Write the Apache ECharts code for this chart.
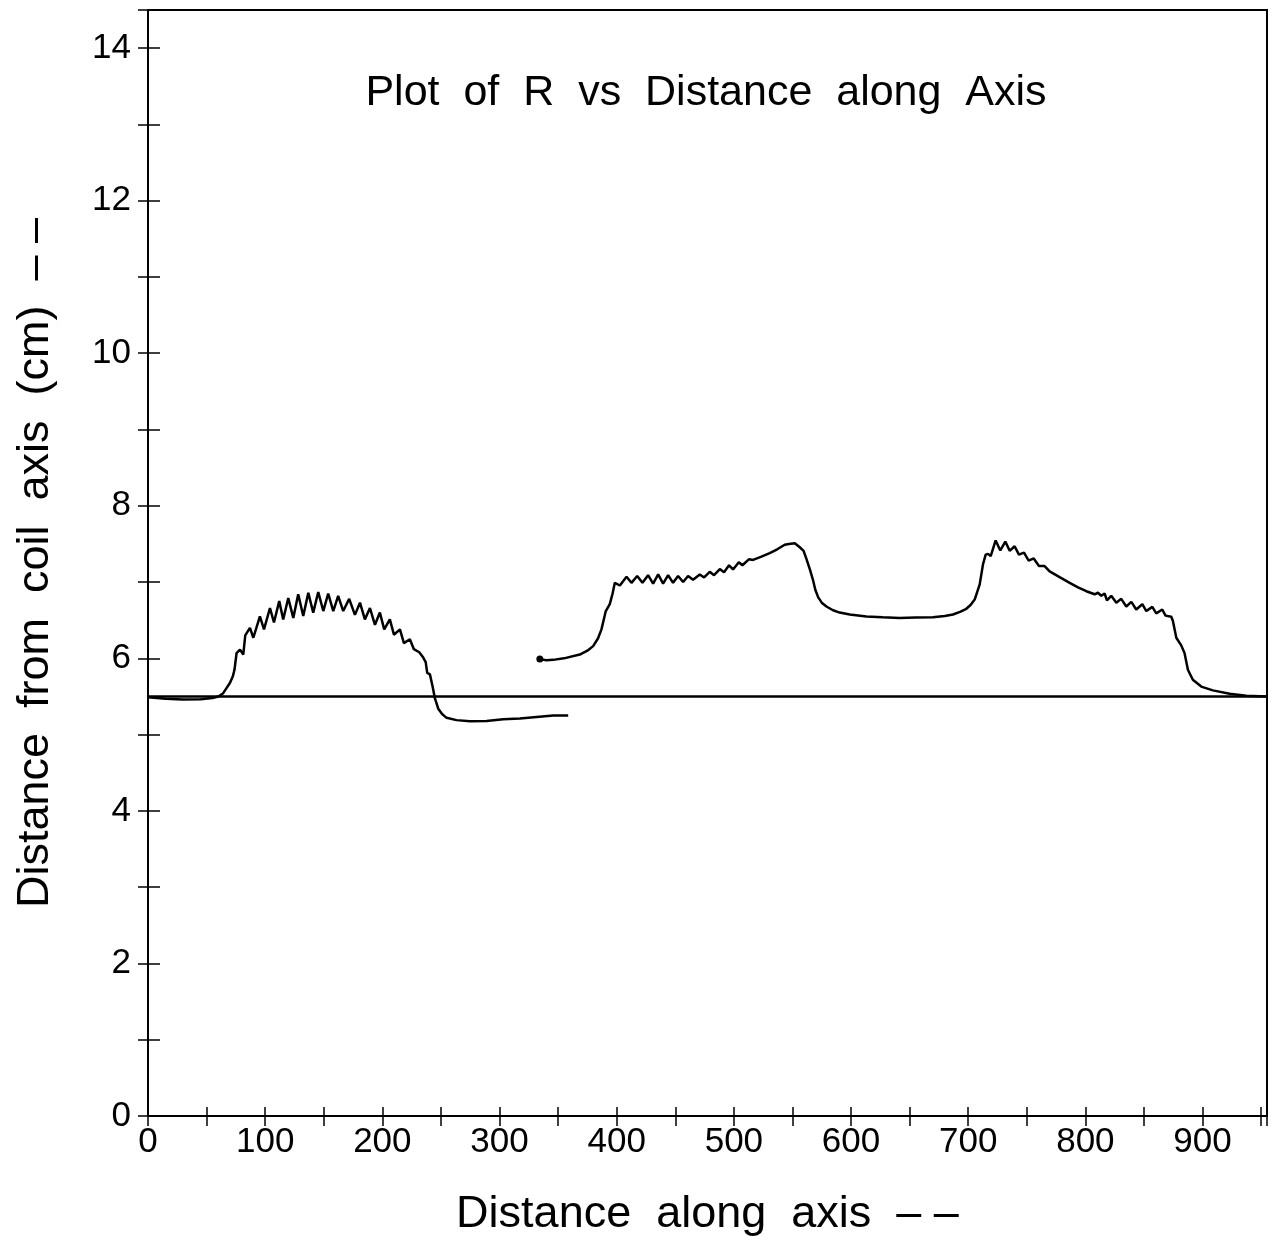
<!DOCTYPE html>
<html>
<head>
<meta charset="utf-8">
<title>Plot of R vs Distance along Axis</title>
<script src="https://cdn.jsdelivr.net/npm/echarts@6/dist/echarts.min.js"></script>
<style>
  html, body { margin: 0; padding: 0; background: #ffffff; }
  #chart { width: 1272px; height: 1246px; }
</style>
</head>
<body>
<div id="chart"></div>
<script>
// ---- Data ----
const xTickLabels = [0, 100, 200, 300, 400, 500, 600, 700, 800, 900];
const yTickLabels = [0, 2, 4, 6, 8, 10, 12, 14];

// Horizontal reference line (coil radius)
const coilRadiusLine = [[0, 5.5], [955, 5.5]];

// First traced curve (left hump, then below the line)
const leftCurve = [
  [0, 5.49], [15, 5.47], [30, 5.46], [45, 5.465], [55, 5.48], [60, 5.50], [64, 5.54],
  [67, 5.61], [70, 5.68], [72.5, 5.77], [73.8, 5.85], [75.6, 6.07], [78.5, 6.115],
  [81.3, 6.05], [83, 6.30], [87, 6.40], [89.9, 6.27], [95.5, 6.55], [99, 6.38],
  [104.1, 6.66], [107.5, 6.47], [112, 6.75], [115.4, 6.51], [119.7, 6.79], [124, 6.53],
  [128.2, 6.84], [132.5, 6.555], [136.8, 6.86], [141, 6.60], [145.3, 6.87], [149.6, 6.62],
  [153.8, 6.85], [158.1, 6.62], [162.3, 6.82], [166.6, 6.62], [171.7, 6.78], [176.6, 6.57],
  [180.9, 6.73], [185.1, 6.51], [189.4, 6.66], [193.7, 6.44], [197.9, 6.60], [201.6, 6.38],
  [206.4, 6.51], [209.9, 6.31], [215, 6.38], [218.4, 6.20], [223.5, 6.25], [226.9, 6.12],
  [231.5, 6.08], [234.9, 6.01], [237, 5.95], [238.3, 5.81], [240.6, 5.79], [242.9, 5.63],
  [244.8, 5.48], [247.7, 5.34], [251, 5.27], [254.8, 5.22], [263.3, 5.19], [274.7, 5.175],
  [288.9, 5.18], [303.1, 5.20], [317.4, 5.21], [331.6, 5.23], [345.8, 5.25], [358.6, 5.25]
];

// Second traced curve (two humps on the right)
const rightCurve = [
  [334.4, 5.99], [340, 5.975], [345.8, 5.98], [355, 6.0], [368.5, 6.05], [375, 6.10],
  [379.9, 6.16], [384, 6.26], [387, 6.38], [390.7, 6.62], [394.1, 6.71], [396.5, 6.85],
  [398.4, 6.99], [399.8, 7.01], [402.7, 6.955], [408.4, 7.07], [412.6, 6.99], [417.5, 7.08],
  [422.0, 6.99], [426.8, 7.09], [431.1, 6.98], [435.4, 7.10], [439.6, 6.98], [443.9, 7.09],
  [448.1, 6.99], [452.4, 7.08], [456.7, 7.00], [460.9, 7.08], [465.2, 7.03], [470.9, 7.10],
  [474.6, 7.06], [479.4, 7.135], [483.1, 7.09], [488.0, 7.17], [491.6, 7.13], [495.9, 7.22],
  [499.3, 7.165], [504.2, 7.26], [507.3, 7.22], [513.0, 7.30], [516.4, 7.29], [523, 7.33],
  [530.6, 7.38], [537, 7.43], [543.4, 7.49], [547, 7.50], [552.0, 7.51], [556, 7.46],
  [559.5, 7.41], [562, 7.30], [565, 7.16], [567.5, 7.03], [569.5, 6.90], [572, 6.80],
  [575, 6.73], [579, 6.68], [584.6, 6.63], [590.3, 6.60], [598.9, 6.575], [613.1, 6.55],
  [627, 6.54], [641.5, 6.53], [655, 6.535], [669.9, 6.54], [680, 6.555], [687, 6.575],
  [693, 6.61], [698.4, 6.65], [702, 6.70], [705.5, 6.77], [707, 6.84], [709.8, 6.97],
  [712.6, 7.23], [714.9, 7.36], [716.9, 7.37], [719.2, 7.34], [723.4, 7.545], [727.4, 7.415],
  [731.7, 7.53], [735.4, 7.41], [739.6, 7.47], [743.3, 7.36], [747.6, 7.385], [751.6, 7.28],
  [755.9, 7.31], [760.4, 7.21], [765.2, 7.21], [769.5, 7.14], [778.0, 7.065], [786.6, 6.99],
  [793.7, 6.93], [800.8, 6.88], [807.9, 6.84], [810.7, 6.86], [813.6, 6.82], [816.4, 6.85],
  [818.4, 6.76], [822.1, 6.82], [826.4, 6.73], [830.6, 6.78], [834.9, 6.68], [839.2, 6.74],
  [843.4, 6.64], [848.6, 6.71], [852, 6.62], [857.1, 6.675], [860.5, 6.59], [865.6, 6.64],
  [868.4, 6.56], [873.3, 6.545], [874.7, 6.49], [877.6, 6.27], [881.8, 6.17], [884.6, 6.07],
  [887.5, 5.85], [891.7, 5.72], [898.9, 5.63], [908.8, 5.58], [923.1, 5.535], [937.3, 5.51],
  [954.3, 5.50]
];

const titleText = 'Plot  of  R  vs  Distance  along  Axis';
const xAxisTitle = 'Distance  along  axis  \u2013 \u2013';
const yAxisTitle = 'Distance  from  coil  axis  (cm)  \u2013 \u2013';

// ---- Chart ----
const FONT = "'Liberation Sans', Arial, Helvetica, sans-serif";
const chart = echarts.init(document.getElementById('chart'), null, { renderer: 'canvas' });

const xLabelSet = new Set(xTickLabels);
const yLabelSet = new Set(yTickLabels);

const rightCurveData = rightCurve.map(function (p, i) {
  return i === 0 ? { value: p, symbol: 'circle', symbolSize: 7 } : p;
});

const lineStyleBlack = function (w) { return { color: '#000', width: w }; };

const option = {
  animation: false,
  backgroundColor: '#ffffff',
  textStyle: { fontFamily: FONT },
  title: {
    text: titleText,
    left: 706,
    top: 72,
    textAlign: 'center',
    padding: 0,
    textStyle: { fontFamily: FONT, fontSize: 43, fontWeight: 'normal', color: '#000' }
  },
  grid: {
    left: 148, right: 5, top: 10, bottom: 130,
    show: true, borderColor: '#000', borderWidth: 2, backgroundColor: 'transparent'
  },
  xAxis: [
    {
      type: 'value', position: 'bottom', min: 0, max: 955, interval: 50,
      name: xAxisTitle, nameLocation: 'middle', nameGap: 76,
      nameTextStyle: { fontFamily: FONT, fontSize: 45, color: '#000' },
      axisLine: { show: true, lineStyle: lineStyleBlack(2) },
      axisTick: { show: true, inside: true, length: 9, lineStyle: lineStyleBlack(1.5) },
      axisLabel: {
        show: true, margin: 9, fontFamily: FONT, fontSize: 35, color: '#000',
        showMaxLabel: false,
        formatter: function (v) { return xLabelSet.has(v) ? String(v) : ''; }
      },
      splitLine: { show: false }
    },
    {
      type: 'value', position: 'top', min: 0, max: 955, interval: 50,
      axisLine: { show: true, lineStyle: lineStyleBlack(2) },
      axisTick: { show: true, inside: true, length: 10, lineStyle: lineStyleBlack(1.5) },
      axisLabel: { show: false },
      splitLine: { show: false }
    }
  ],
  yAxis: [
    {
      type: 'value', position: 'left', min: 0, max: 14.5, interval: 1,
      name: yAxisTitle, nameLocation: 'middle', nameGap: 90, nameRotate: 90,
      nameTextStyle: { fontFamily: FONT, fontSize: 45, color: '#000' },
      axisLine: { show: true, lineStyle: lineStyleBlack(2) },
      axisTick: { show: true, inside: true, length: 12, lineStyle: lineStyleBlack(1.5) },
      axisLabel: {
        show: true, margin: 17, fontFamily: FONT, fontSize: 35, color: '#000',
        showMaxLabel: false,
        formatter: function (v) { return yLabelSet.has(v) ? String(v) : ''; }
      },
      splitLine: { show: false }
    },
    {
      type: 'value', position: 'right', min: 0, max: 14.5, interval: 1,
      axisLine: { show: true, lineStyle: lineStyleBlack(2) },
      axisTick: { show: true, inside: true, length: 10, lineStyle: lineStyleBlack(1.5) },
      axisLabel: { show: false },
      splitLine: { show: false }
    }
  ],
  series: [
    {
      name: 'Coil radius', type: 'line', data: coilRadiusLine,
      xAxisIndex: 0, yAxisIndex: 0, symbol: 'none', smooth: false,
      lineStyle: lineStyleBlack(2.6), z: 3
    },
    {
      name: 'R (left)', type: 'line', data: leftCurve,
      xAxisIndex: 0, yAxisIndex: 0, symbol: 'none', smooth: false,
      lineStyle: lineStyleBlack(2.5), z: 4
    },
    {
      name: 'R (right)', type: 'line', data: rightCurveData,
      xAxisIndex: 0, yAxisIndex: 0, symbol: 'none', showSymbol: true, smooth: false,
      itemStyle: { color: '#000' },
      lineStyle: lineStyleBlack(2.5), z: 4
    }
  ]
};

chart.setOption(option);
</script>
</body>
</html>
